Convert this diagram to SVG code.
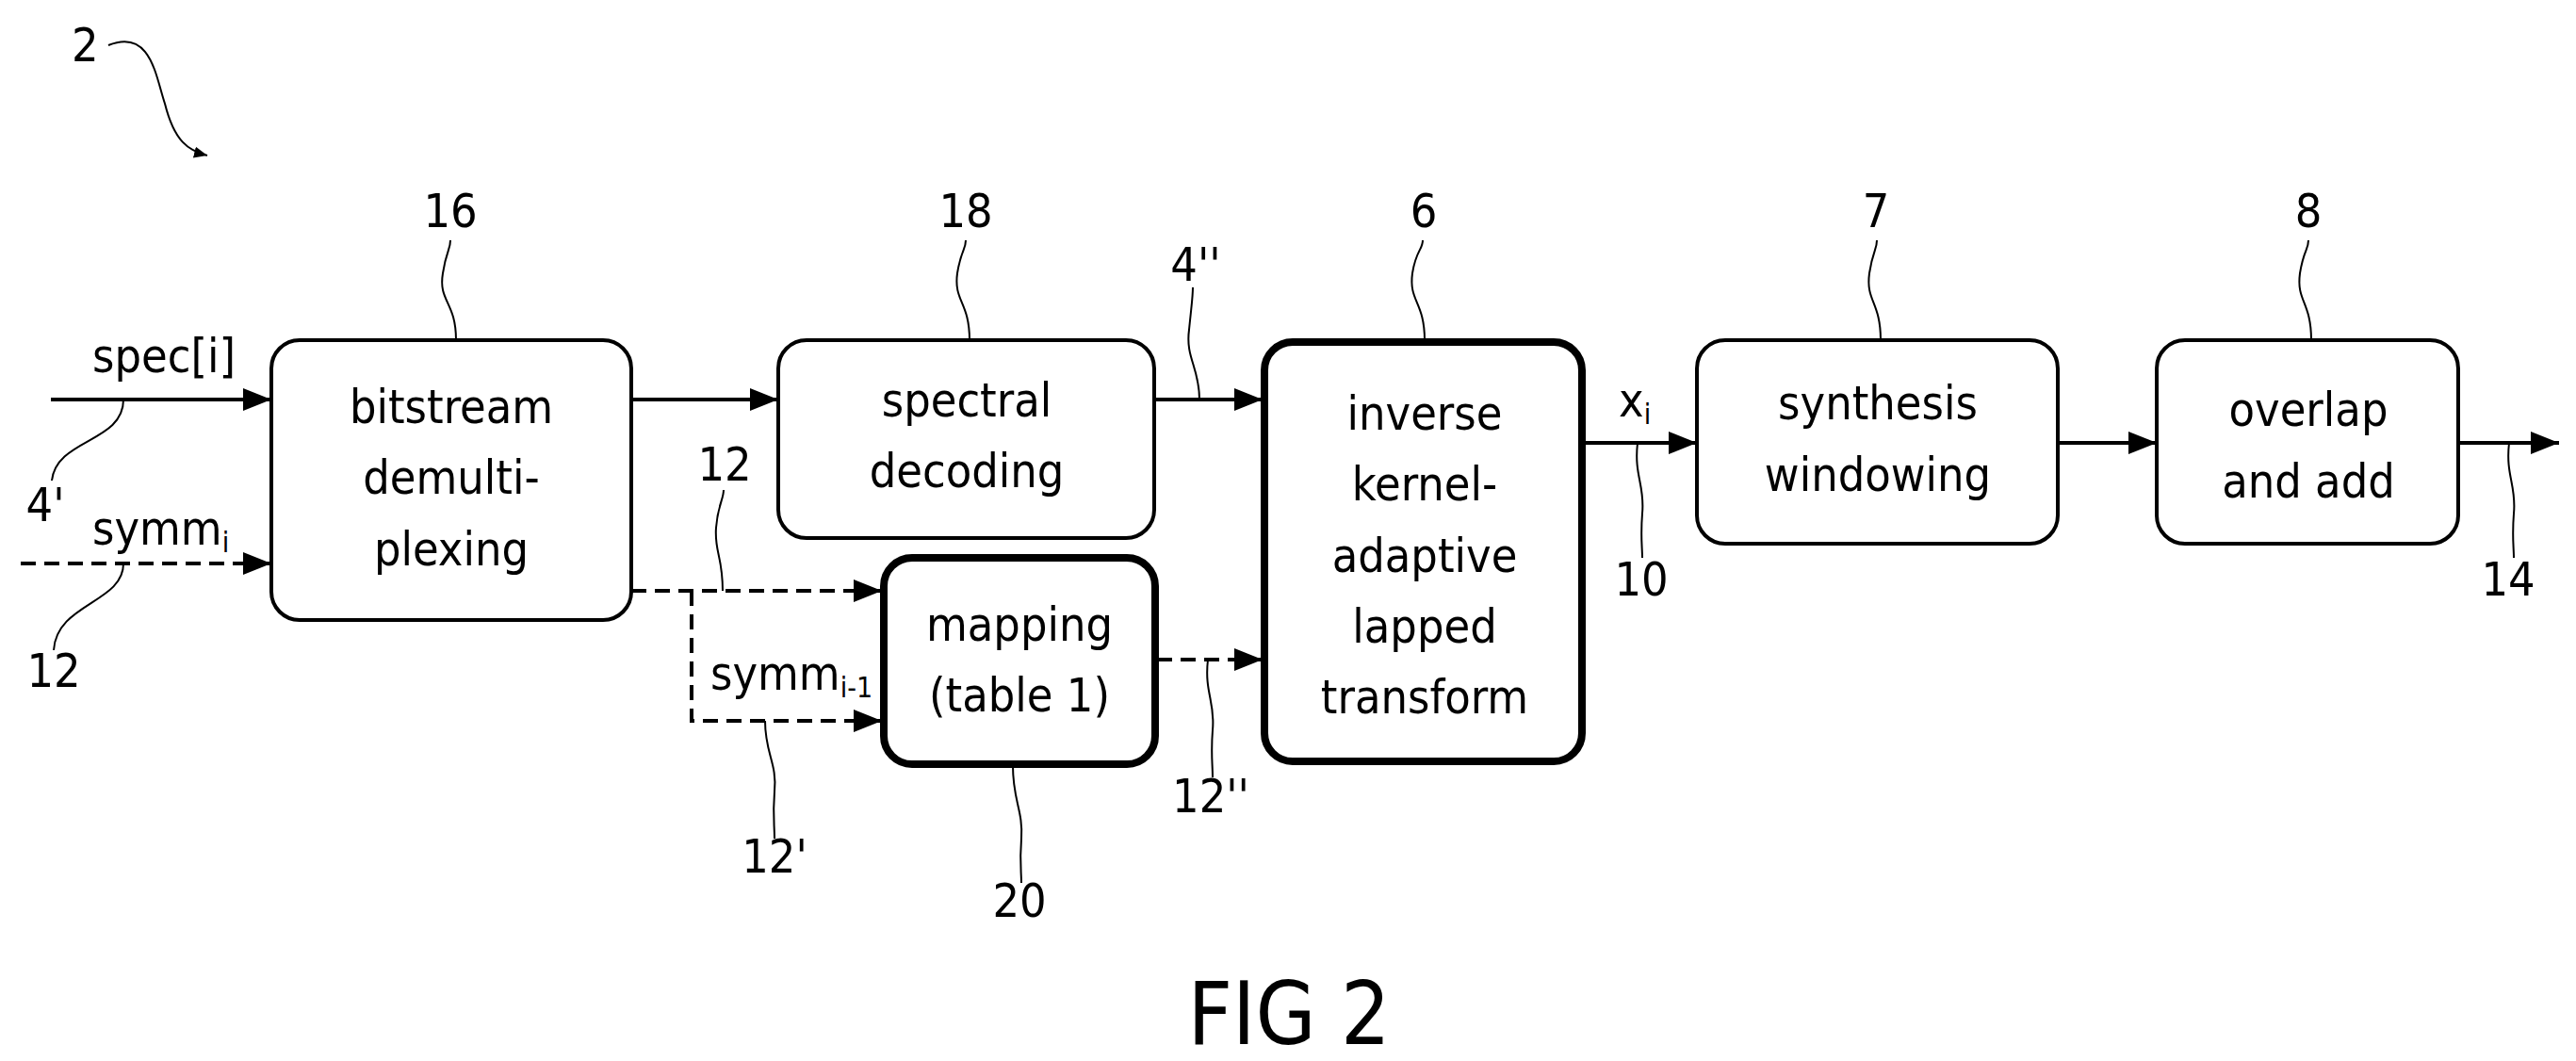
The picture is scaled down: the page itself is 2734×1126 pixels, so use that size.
<svg xmlns="http://www.w3.org/2000/svg" width="2734" height="1126" viewBox="0 0 2734 1126">
<defs>
<marker id="ar" markerWidth="10" markerHeight="8" refX="10" refY="4" orient="auto" markerUnits="userSpaceOnUse" viewBox="0 0 10 8" style="overflow:visible">
<path d="M0,0 L10,4 L0,8 Z" fill="#000"/>
</marker>
<marker id="a" viewBox="0 0 30 24" refX="30" refY="12" markerWidth="30" markerHeight="24" markerUnits="userSpaceOnUse" orient="auto"><path d="M0,0 L30,12 L0,24 Z" fill="#000"/></marker>
<marker id="s" viewBox="0 0 14 12" refX="14" refY="6" markerWidth="14" markerHeight="12" markerUnits="userSpaceOnUse" orient="auto"><path d="M0,0 L14,6 L0,12 Z" fill="#000"/></marker>
</defs>
<style>
text{font-family:"Liberation Sans Narrow","DejaVu Sans Condensed","Liberation Sans",sans-serif;font-stretch:condensed;font-size:50px;fill:#000}
.c{text-anchor:middle}
.box{fill:#fff;stroke:#000;stroke-width:4}
.thick{stroke-width:8}
.ln{fill:none;stroke:#000;stroke-width:4}
.d{stroke-dasharray:16 9}
.ld{fill:none;stroke:#000;stroke-width:2}
.fig{font-size:92px}
</style>
<rect width="2734" height="1126" fill="#fff"/>
<g id="connectors">
<line class="ln" x1="54" y1="424" x2="288" y2="424" marker-end="url(#a)"/>
<line class="ln d" x1="22" y1="598" x2="288" y2="598" marker-end="url(#a)"/>
<line class="ln" x1="670" y1="424" x2="826" y2="424" marker-end="url(#a)"/>
<line class="ln" x1="1225" y1="424" x2="1340" y2="424" marker-end="url(#a)"/>
<polyline class="ln d" points="670,627 936,627" marker-end="url(#a)"/>
<polyline class="ln d" points="734,627 734,765 936,765" marker-end="url(#a)"/>
<line class="ln d" x1="1228" y1="700" x2="1340" y2="700" marker-end="url(#a)"/>
<line class="ln" x1="1681" y1="470" x2="1801" y2="470" marker-end="url(#a)"/>
<line class="ln" x1="2184" y1="470" x2="2289" y2="470" marker-end="url(#a)"/>
<line class="ln" x1="2609" y1="470" x2="2716" y2="470" marker-end="url(#a)"/>
</g>
<g id="leaders">
<path class="ld" d="M115,48 C160,30 165,80 175,110 C185,150 200,160 220,165" marker-end="url(#s)"/>
<path class="ld" d="M484,361 C484,320 465,320 470,290 C474,265 478,265 478,255"/>
<path class="ld" d="M1029,361 C1029,320 1012,320 1016,290 C1020,265 1025,265 1025,255"/>
<path class="ld" d="M1512,361 C1512,320 1495,320 1499,290 C1503,265 1510,265 1510,255"/>
<path class="ld" d="M1996,361 C1996,320 1980,320 1984,290 C1988,265 1992,265 1992,255"/>
<path class="ld" d="M2453,361 C2453,320 2437,320 2441,290 C2445,265 2450,265 2450,255"/>
<path class="ld" d="M1273,424 C1273,390 1258,380 1262,350 C1265,320 1266,315 1266,305"/>
<path class="ld" d="M767,627 C767,590 758,585 760,560 C762,535 768,530 768,520"/>
<path class="ld" d="M131,424 C131,470 60,465 55,510"/>
<path class="ld" d="M131,598 C131,640 60,640 57,690"/>
<path class="ld" d="M812,765 C812,800 825,810 822,840 C820,865 822,875 822,890"/>
<path class="ld" d="M1075,813 C1075,850 1086,860 1084,890 C1082,915 1084,925 1084,937"/>
<path class="ld" d="M1282,700 C1278,735 1290,745 1287,775 C1285,800 1287,810 1287,825"/>
<path class="ld" d="M1738,470 C1734,505 1746,515 1743,545 C1741,570 1743,580 1743,592"/>
<path class="ld" d="M2663,470 C2659,505 2671,515 2668,545 C2666,570 2668,580 2668,592"/>
</g>
<g id="n16"><rect class="box" x="288" y="361" width="382" height="297" rx="30"/>
<text class="c" x="479" y="449">bitstream</text><text class="c" x="479" y="524">demulti-</text><text class="c" x="479" y="600">plexing</text></g>
<g id="n18"><rect class="box" x="826" y="361" width="399" height="210" rx="30"/>
<text class="c" x="1026" y="442">spectral</text><text class="c" x="1026" y="517">decoding</text></g>
<g id="n20"><rect class="box thick" x="938" y="592" width="288" height="219" rx="30"/>
<text class="c" x="1082" y="680">mapping</text><text class="c" x="1082" y="755">(table 1)</text></g>
<g id="n6"><rect class="box thick" x="1342" y="363" width="337" height="445" rx="30"/>
<text class="c" x="1512" y="456">inverse</text><text class="c" x="1512" y="531">kernel-</text><text class="c" x="1512" y="607">adaptive</text><text class="c" x="1512" y="682">lapped</text><text class="c" x="1512" y="757">transform</text></g>
<g id="n7"><rect class="box" x="1801" y="361" width="383" height="216" rx="30"/>
<text class="c" x="1993" y="445">synthesis</text><text class="c" x="1993" y="521">windowing</text></g>
<g id="n8"><rect class="box" x="2289" y="361" width="320" height="216" rx="30"/>
<text class="c" x="2450" y="452">overlap</text><text class="c" x="2450" y="528">and add</text></g>
<g id="labels">
<text x="76" y="65">2</text>
<text class="c" x="478" y="241">16</text>
<text class="c" x="1025" y="241">18</text>
<text class="c" x="1511" y="241">6</text>
<text class="c" x="1991" y="241">7</text>
<text class="c" x="2450" y="241">8</text>
<text class="c" x="1269" y="298">4''</text>
<text class="c" x="769" y="510">12</text>
<text x="98" y="395">spec[i]</text>
<text class="c" x="48" y="553">4'</text>
<text x="98" y="578">symm<tspan font-size="30" dy="8">i</tspan></text>
<text class="c" x="57" y="729">12</text>
<text x="754" y="732">symm<tspan font-size="30" dy="8">i-1</tspan></text>
<text class="c" x="822" y="926">12'</text>
<text class="c" x="1082" y="973">20</text>
<text class="c" x="1285" y="862">12''</text>
<text x="1718" y="442">x<tspan font-size="30" dy="8">i</tspan></text>
<text class="c" x="1742" y="632">10</text>
<text class="c" x="2662" y="632">14</text>
<text class="c fig" x="1368" y="1108">FIG 2</text>
</g>
</svg>
